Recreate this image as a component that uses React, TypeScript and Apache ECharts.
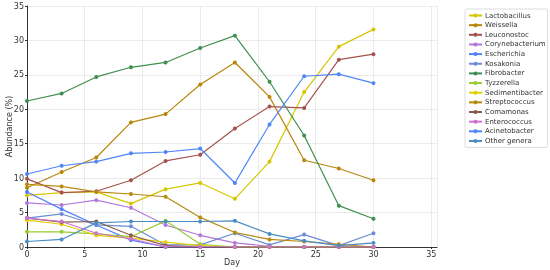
import React, { useEffect, useRef } from "react";
import * as echarts from "echarts";

const days = [0, 3, 6, 9, 12, 15, 18, 21, 24, 27, 30];

const lactobacillus = [7.5, 7.9, 8.0, 6.3, 8.4, 9.3, 7.0, 12.4, 22.5, 29.1, 31.6];
const weissella = [8.6, 10.9, 13.0, 18.1, 19.3, 23.6, 26.8, 21.8, 12.6, 11.4, 9.7];
const leuconostoc = [9.9, 7.9, 8.1, 9.7, 12.5, 13.4, 17.2, 20.4, 20.2, 27.2, 28.0];
const corynebacterium = [6.4, 6.1, 6.8, 5.7, 3.2, 1.7, 0.6, 0.1, 0.0, 0.0, 0.0];
const escherichia = [8.0, 5.5, 3.2, 1.0, 0.0, 0.0, 0.0, 0.0, 0.0, 0.0, 0.0];
const kosakonia = [4.2, 4.8, 3.2, 3.0, 0.3, 0.3, 2.0, 0.3, 1.8, 0.2, 2.0];
const fibrobacter = [21.2, 22.3, 24.7, 26.1, 26.8, 28.9, 30.7, 24.0, 16.2, 6.0, 4.1];
const tyzzerella = [2.2, 2.2, 1.9, 1.5, 3.8, 0.4, 0.0, 0.0, 0.0, 0.0, 0.0];
const sedimentibacter = [3.9, 3.3, 1.7, 1.3, 0.7, 0.2, 0.0, 0.0, 0.0, 0.0, 0.0];
const streptococcus = [9.1, 8.8, 8.0, 7.7, 7.3, 4.3, 2.1, 1.1, 0.8, 0.4, 0.0];
const comamonas = [4.2, 3.6, 3.7, 1.7, 0.2, 0.0, 0.0, 0.0, 0.0, 0.0, 0.0];
const enterococcus = [4.2, 3.7, 2.0, 1.2, 0.0, 0.0, 0.0, 0.0, 0.0, 0.0, 0.0];
const acinetobacter = [10.6, 11.8, 12.4, 13.6, 13.8, 14.3, 9.3, 17.8, 24.8, 25.1, 23.8];
const otherGenera = [0.8, 1.1, 3.5, 3.7, 3.7, 3.7, 3.8, 1.9, 0.9, 0.2, 0.6];

const seriesNames = [
  "Lactobacillus", "Weissella", "Leuconostoc", "Corynebacterium", "Escherichia",
  "Kosakonia", "Fibrobacter", "Tyzzerella", "Sedimentibacter", "Streptococcus",
  "Comamonas", "Enterococcus", "Acinetobacter", "Other genera",
];
const seriesValues = [
  lactobacillus, weissella, leuconostoc, corynebacterium, escherichia,
  kosakonia, fibrobacter, tyzzerella, sedimentibacter, streptococcus,
  comamonas, enterococcus, acinetobacter, otherGenera,
];
const colors = [
  "#d6c600", "#b8860b", "#a5524e", "#b377d9", "#5080ff",
  "#6b8cd6", "#3f8f4f", "#9acd32", "#e0d000", "#b88a10",
  "#8b5a4a", "#d070d0", "#4f86f7", "#4a8cc4",
];

const FONT = "DejaVu Sans";

export default function App() {
  const ref = useRef<HTMLDivElement>(null);
  useEffect(() => {
    if (!ref.current) return;
    const chart = echarts.init(ref.current, undefined, { renderer: "svg" });
    chart.setOption({
      animation: false,
      textStyle: { fontFamily: FONT },
      grid: {
        left: 27,
        right: 113,
        top: 6,
        bottom: 23,
        containLabel: false,
        outerBoundsMode: "none",
      },
      legend: {
        orient: "vertical",
        left: 465,
        top: 9,
        itemWidth: 13,
        itemHeight: 5,
        itemGap: 2.65,
        padding: [3, 2, 3, 3],
        borderColor: "#dddddd",
        borderWidth: 1,
        borderRadius: 2,
        backgroundColor: "#ffffff",
        textStyle: { fontSize: 7, color: "#333", fontFamily: FONT, padding: [0, 0, 0, -2] },
        data: seriesNames,
      },
      xAxis: {
        type: "value",
        min: 0,
        max: 35.5,
        interval: 5,
        name: "Day",
        nameLocation: "middle",
        nameGap: 11,
        nameMoveOverlap: false,
        nameTextStyle: { fontSize: 8, color: "#333", fontFamily: FONT },
        axisLine: { show: true, lineStyle: { color: "#333", width: 1 } },
        axisTick: { show: true, length: 2, lineStyle: { color: "#333" } },
        axisLabel: { fontSize: 8, color: "#333", margin: 3, showMaxLabel: false },
        splitLine: { show: true, lineStyle: { color: "#e6e6e6", width: 0.8 } },
      },
      yAxis: {
        type: "value",
        min: 0,
        max: 35,
        interval: 5,
        name: "Abundance (%)",
        nameLocation: "middle",
        nameGap: 14,
        nameMoveOverlap: false,
        nameTextStyle: { fontSize: 8, color: "#333", fontFamily: FONT },
        axisLine: { show: true, lineStyle: { color: "#333", width: 1 } },
        axisTick: { show: true, length: 2, lineStyle: { color: "#333" } },
        axisLabel: { fontSize: 8, color: "#333", margin: 3 },
        splitLine: { show: true, lineStyle: { color: "#e6e6e6", width: 0.8 } },
      },
      series: seriesNames.map((name, i) => ({
        name,
        type: "line",
        data: days.map((d, j) => [d, seriesValues[i][j]]),
        symbol: "circle",
        symbolSize: 4,
        showSymbol: true,
        lineStyle: { width: 1.2, color: colors[i] },
        itemStyle: { color: colors[i] },
        z: 2,
      })),
    });
    return () => chart.dispose();
  }, []);
  return (
    <div
      ref={ref}
      style={{ position: "fixed", left: 0, top: 0, width: 550, height: 270 }}
    />
  );
}
